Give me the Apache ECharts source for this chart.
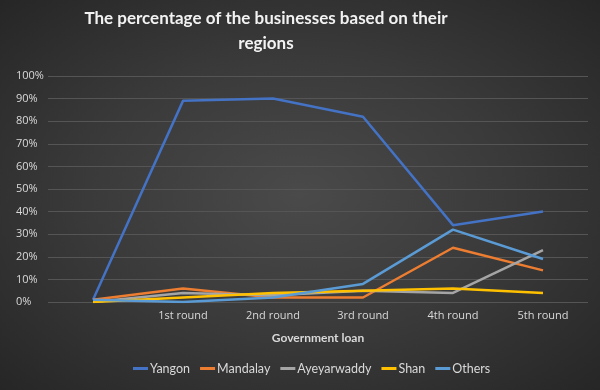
<!DOCTYPE html>
<html><head><meta charset="utf-8">
<script src="https://cdn.jsdelivr.net/npm/echarts@6/dist/echarts.min.js"></script>
<style>html,body{margin:0;padding:0;}#c{width:600px;height:390px;background:radial-gradient(ellipse at center,#4a4a4a 0%,#3a3a3a 50%,#262626 100%);}</style>
</head><body><div id="c"></div>
<script>
const categories = ['', '1st round', '2nd round', '3rd round', '4th round', '5th round'];
const yangon = [1, 89, 90, 82, 34, 40];
const mandalay = [1, 6, 2, 2, 24, 14];
const ayeyarwaddy = [0, 4, 3, 5, 4, 23];
const shan = [0, 2, 4, 5, 6, 4];
const others = [1, 0, 2, 8, 32, 19];
const seriesNames = ['Yangon', 'Mandalay', 'Ayeyarwaddy', 'Shan', 'Others'];
const colors = ['#4472C4', '#ED7D31', '#A5A5A5', '#FFC000', '#5B9BD5'];
const yTicks = [0, 10, 20, 30, 40, 50, 60, 70, 80, 90, 100];

const dataSets = [yangon, mandalay, ayeyarwaddy, shan, others];
const chart = echarts.init(document.getElementById('c'));
chart.setOption({
  backgroundColor: 'transparent',
  animation: false,
  title: {
    text: 'The percentage of the businesses based on their\nregions',
    left: 261, top: 1, textAlign: 'center',
    textStyle: {color: '#f2f2f2', fontFamily: 'Lato', fontWeight: 'bold', fontSize: 17, lineHeight: 25}
  },
  grid: {left: 48, right: 12, top: 76, bottom: 88},
  legend: {
    data: seriesNames, bottom: 10, left: 128,
    icon: 'rect', itemWidth: 15, itemHeight: 3, itemGap: 10,
    textStyle: {color: '#d9d9d9', fontFamily: 'Lato', fontSize: 12.5, padding: [0, 0, 0, -3]}
  },
  xAxis: {
    type: 'category', data: categories, boundaryGap: true,
    name: 'Government loan', nameLocation: 'middle', nameGap: 30,
    nameTextStyle: {color: '#d9d9d9', fontFamily: 'Lato', fontWeight: 'bold', fontSize: 12},
    axisLine: {show: false}, axisTick: {show: false},
    axisLabel: {color: '#d9d9d9', fontFamily: 'Open Sans', fontSize: 11, margin: 8}
  },
  yAxis: {
    type: 'value', min: 0, max: 100, interval: 10,
    axisLine: {show: false}, axisTick: {show: false},
    splitLine: {lineStyle: {color: '#555555', width: 1}},
    axisLabel: {color: '#d9d9d9', fontFamily: 'Open Sans', fontSize: 11, align: 'left', margin: 32,
      formatter: v => yTicks.includes(v) ? v + '%' : ''}
  },
  series: seriesNames.map((n, i) => ({
    name: n, type: 'line', data: dataSets[i], symbol: 'none',
    lineStyle: {color: colors[i], width: 2.5}, itemStyle: {color: colors[i]}
  }))
});
</script></body></html>
